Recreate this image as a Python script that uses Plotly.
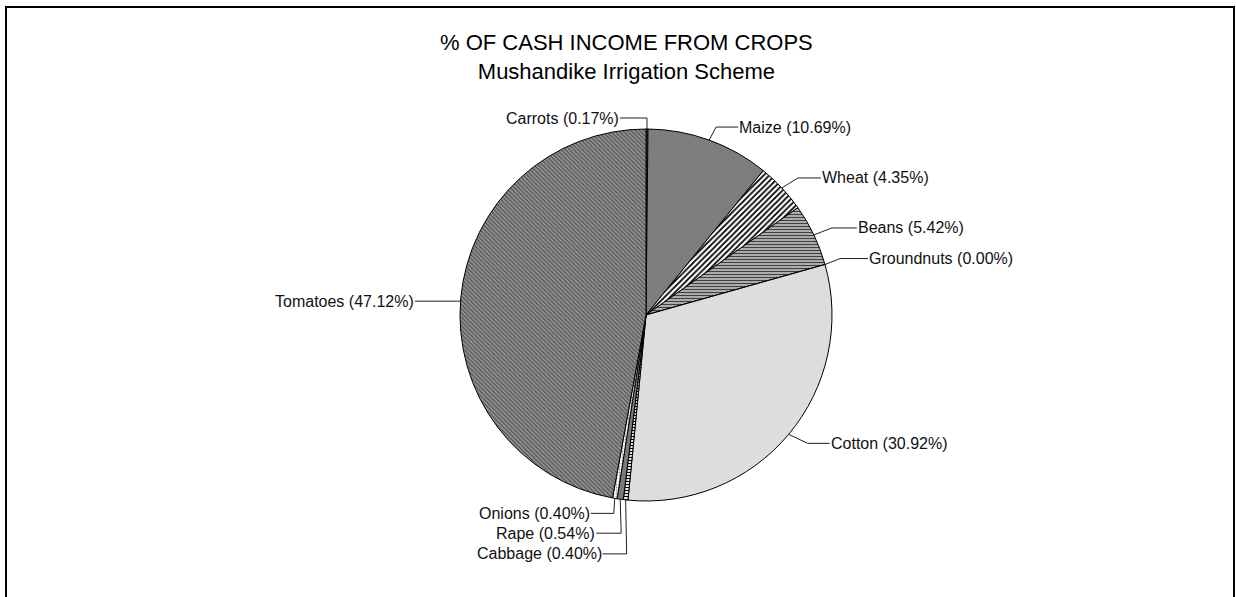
import math
import plotly.graph_objects as go

# Share of cash income by crop, clockwise from 12 o'clock
crops = ["Carrots", "Maize", "Wheat", "Beans", "Groundnuts",
         "Cotton", "Cabbage", "Rape", "Onions", "Tomatoes"]
shares = [0.17, 10.69, 4.35, 5.42, 0.00, 30.92, 0.40, 0.54, 0.40, 47.12]

title_lines = ["% OF CASH INCOME FROM CROPS", "Mushandike Irrigation Scheme"]

W, H = 1236, 597
CX, CY, R = 646, 315, 186          # pie centre and radius in pixels
FONT = "Liberation Sans, Arial, sans-serif"

# slice fills: (background, pattern shape, pattern colour, pattern size, solidity)
fills = {
    "Carrots":    ("#5a5a5a", "",   "#000000", 4, 0.3),
    "Maize":      ("#858585", ".",  "#707070", 2, 0.35),
    "Wheat":      ("#ffffff", "/",  "#000000", 4, 0.45),
    "Beans":      ("#d0d0d0", "-",  "#404040", 3, 0.5),
    "Groundnuts": ("#ffffff", "",   "#000000", 4, 0.3),
    "Cotton":     ("#ececec", ".",  "#c4c4c4", 2, 0.35),
    "Cabbage":    ("#ffffff", "-",  "#000000", 3, 0.4),
    "Rape":       ("#7a7a7a", "",   "#000000", 4, 0.3),
    "Onions":     ("#ffffff", ".",  "#999999", 3, 0.3),
    "Tomatoes":   ("#959595", "\\", "#555555", 3, 0.45),
}

# leader line geometry per label: elbow offset (dx, dy) from slice edge, then horizontal run
leaders = {
    "Carrots":    (0, -11, -27),
    "Maize":      (7, -13, 22),
    "Wheat":      (16, -10, 23),
    "Beans":      (18, -7, 25),
    "Groundnuts": (15, -6, 28),
    "Cotton":     (19, 9, 22),
    "Cabbage":    (1, 54, -24),
    "Rape":       (1, 34, -25),
    "Onions":     (-1, 15, -23),
    "Tomatoes":   (0, 3, -46),
}

fig = go.Figure()

fig.add_trace(go.Pie(
    labels=crops,
    values=shares,
    sort=False,
    direction="clockwise",
    rotation=0,
    textinfo="none",
    hoverinfo="label+percent",
    showlegend=False,
    domain=dict(x=[(CX - R) / W, (CX + R) / W],
                y=[1 - (CY + R) / H, 1 - (CY - R) / H]),
    marker=dict(
        colors=[fills[c][0] for c in crops],
        line=dict(color="#000000", width=1),
        pattern=dict(
            shape=[fills[c][1] for c in crops],
            fgcolor=[fills[c][2] for c in crops],
            bgcolor=[fills[c][0] for c in crops],
            size=[fills[c][3] for c in crops],
            solidity=[fills[c][4] for c in crops],
            fillmode="replace",
        ),
    ),
))

# leader lines and labels, anchored at each slice's mid-angle on the rim
total = sum(shares)
cum = 0.0
annotations = []
for crop, val in zip(crops, shares):
    mid = (cum + val / 2) / total * 2 * math.pi
    cum += val
    ax = CX + R * math.sin(mid)
    ay = CY - R * math.cos(mid)
    dx, dy, run = leaders[crop]
    ex, ey = ax + dx, ay + dy
    tx = ex + run
    fig.add_trace(go.Scatter(
        x=[ax, ex, tx], y=[ay, ey, ey], mode="lines",
        line=dict(color="#202020", width=1),
        hoverinfo="skip", showlegend=False,
    ))
    annotations.append(dict(
        x=tx, y=ey, xref="x", yref="y",
        text=f"{crop} ({val:.2f}%)", showarrow=False,
        xanchor="left" if run > 0 else "right", yanchor="middle",
        font=dict(family=FONT, size=16, color="#111111"),
        borderpad=0,
    ))

annotations.append(dict(
    x=626, y=57, xref="x", yref="y",
    text="<br>".join(title_lines), showarrow=False,
    xanchor="center", yanchor="middle",
    font=dict(family=FONT, size=22, color="#000000"),
))

fig.update_layout(
    width=W, height=H,
    margin=dict(l=0, r=0, t=0, b=0),
    paper_bgcolor="#ffffff",
    plot_bgcolor="rgba(0,0,0,0)",
    xaxis=dict(range=[0, W], visible=False, fixedrange=True),
    yaxis=dict(range=[H, 0], visible=False, fixedrange=True),
    annotations=annotations,
    shapes=[dict(type="rect", xref="x", yref="y", x0=6, y0=7, x1=1234, y1=H + 4,
                 line=dict(color="#000000", width=2), fillcolor="rgba(0,0,0,0)")],
)

fig.write_html("out.html")
